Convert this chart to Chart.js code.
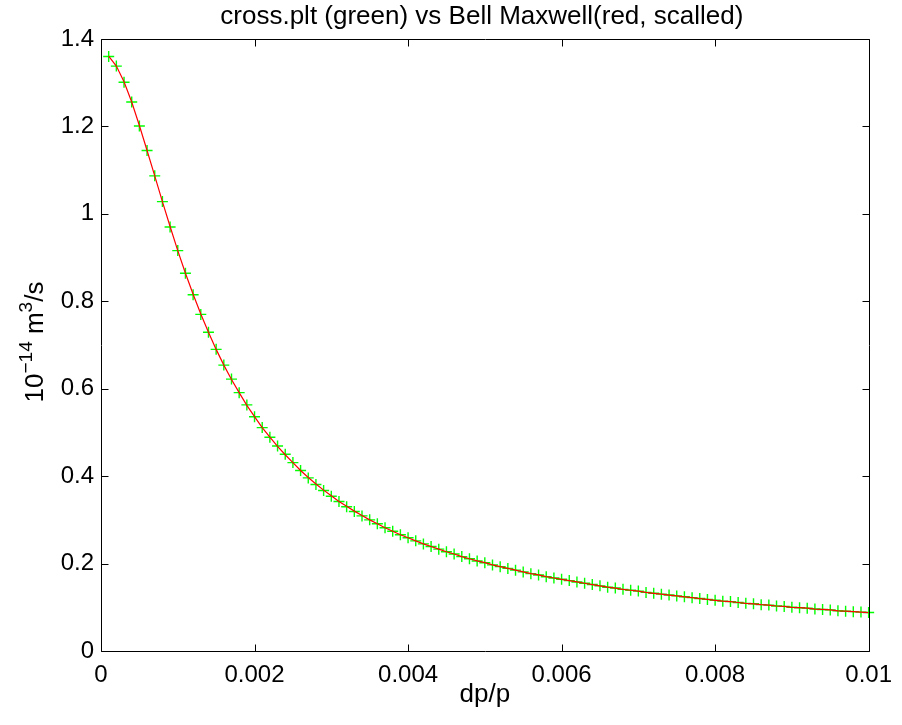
<!DOCTYPE html>
<html>
<head>
<meta charset="utf-8">
<script src="https://cdn.jsdelivr.net/npm/chart.js@4.4.0/dist/chart.umd.min.js"></script>
<style>
html,body{margin:0;padding:0;background:#ffffff;}
#wrap{width:902px;height:725px;position:relative;}
canvas{display:block;}
</style>
</head>
<body>
<div id="wrap"><canvas id="c" width="902" height="725"></canvas></div>
<script>
// ---- data ----
const dpOverP = [
  0.0001,0.0002,0.0003,0.0004,0.0005,0.0006,0.0007,0.0008,0.0009,0.0010,
  0.0011,0.0012,0.0013,0.0014,0.0015,0.0016,0.0017,0.0018,0.0019,0.0020,
  0.0021,0.0022,0.0023,0.0024,0.0025,0.0026,0.0027,0.0028,0.0029,0.0030,
  0.0031,0.0032,0.0033,0.0034,0.0035,0.0036,0.0037,0.0038,0.0039,0.0040,
  0.0041,0.0042,0.0043,0.0044,0.0045,0.0046,0.0047,0.0048,0.0049,0.0050,
  0.0051,0.0052,0.0053,0.0054,0.0055,0.0056,0.0057,0.0058,0.0059,0.0060,
  0.0061,0.0062,0.0063,0.0064,0.0065,0.0066,0.0067,0.0068,0.0069,0.0070,
  0.0071,0.0072,0.0073,0.0074,0.0075,0.0076,0.0077,0.0078,0.0079,0.0080,
  0.0081,0.0082,0.0083,0.0084,0.0085,0.0086,0.0087,0.0088,0.0089,0.0090,
  0.0091,0.0092,0.0093,0.0094,0.0095,0.0096,0.0097,0.0098,0.0099,0.0100
];
// green crosses (cross.plt)
const crossPlt = [
  1.360,1.338,1.301,1.256,1.201,1.145,1.087,1.028,0.970,0.916,
  0.864,0.815,0.770,0.729,0.690,0.654,0.622,0.591,0.563,0.536,
  0.511,0.489,0.469,0.450,0.431,0.413,0.396,0.381,0.367,0.354,
  0.342,0.330,0.319,0.309,0.300,0.291,0.282,0.274,0.266,0.259,
  0.252,0.245,0.239,0.233,0.227,0.222,0.216,0.211,0.206,0.202,
  0.197,0.193,0.189,0.185,0.181,0.177,0.174,0.170,0.167,0.164,
  0.161,0.158,0.155,0.152,0.149,0.146,0.144,0.141,0.139,0.137,
  0.134,0.132,0.130,0.128,0.126,0.124,0.122,0.120,0.118,0.116,
  0.114,0.113,0.111,0.109,0.108,0.106,0.105,0.103,0.102,0.100,
  0.099,0.098,0.096,0.095,0.094,0.092,0.091,0.090,0.089,0.088
];
// red line (Bell Maxwell, scaled) - coincides with the crosses in the picture
const bellMaxwell = [
  1.361,1.338,1.302,1.256,1.202,1.145,1.087,1.028,0.971,0.916,
  0.864,0.816,0.771,0.729,0.690,0.654,0.621,0.591,0.562,0.536,
  0.511,0.489,0.468,0.449,0.431,0.413,0.397,0.382,0.368,0.355,
  0.342,0.331,0.320,0.310,0.300,0.291,0.282,0.274,0.266,0.259,
  0.252,0.245,0.239,0.233,0.227,0.222,0.216,0.211,0.206,0.202,
  0.197,0.193,0.189,0.185,0.181,0.177,0.174,0.170,0.167,0.164,
  0.161,0.158,0.155,0.152,0.149,0.146,0.144,0.141,0.139,0.137,
  0.134,0.132,0.130,0.128,0.126,0.124,0.122,0.120,0.118,0.116,
  0.114,0.113,0.111,0.109,0.108,0.106,0.105,0.103,0.102,0.100,
  0.099,0.098,0.096,0.095,0.094,0.092,0.091,0.090,0.089,0.088
];
const xTicks = [0, 0.002, 0.004, 0.006, 0.008, 0.01];
const xTickLabels = ['0', '0.002', '0.004', '0.006', '0.008', '0.01'];
const yTicks = [0, 0.2, 0.4, 0.6, 0.8, 1.0, 1.2, 1.4];
const yTickLabels = ['0', '0.2', '0.4', '0.6', '0.8', '1', '1.2', '1.4'];
const titleText = 'cross.plt (green) vs Bell Maxwell(red, scalled)';
const xAxisLabel = 'dp/p';
const yAxisLabelParts = [
  {text: '10', sup: false},
  {text: '\u221214', sup: true},
  {text: ' m', sup: false},
  {text: '3', sup: true},
  {text: '/s', sup: false}
];

const FONT = '"Liberation Sans", Arial, Helvetica, sans-serif';

const framePlugin = {
  id: 'matlabFrame',
  afterDraw(chart) {
    const ctx = chart.ctx;
    const a = chart.chartArea;
    const xs = chart.scales.x, ys = chart.scales.y;
    const L = Math.round(a.left) + 0.5, R = Math.round(a.right) + 0.5;
    const T = Math.round(a.top) + 0.5, B = Math.round(a.bottom) + 0.5;
    ctx.save();
    ctx.strokeStyle = '#000000';
    ctx.lineWidth = 1;
    ctx.beginPath();
    ctx.rect(L, T, R - L, B - T);
    ctx.stroke();
    const tl = 7;
    ctx.beginPath();
    xTicks.forEach(v => {
      const p = Math.round(xs.getPixelForValue(v)) + 0.5;
      ctx.moveTo(p, B); ctx.lineTo(p, B - tl);
      ctx.moveTo(p, T); ctx.lineTo(p, T + tl);
    });
    yTicks.forEach(v => {
      const p = Math.round(ys.getPixelForValue(v)) + 0.5;
      ctx.moveTo(L, p); ctx.lineTo(L + tl, p);
      ctx.moveTo(R, p); ctx.lineTo(R - tl, p);
    });
    ctx.stroke();

    ctx.fillStyle = '#000000';
    // title
    ctx.font = '26px ' + FONT;
    ctx.textAlign = 'center';
    ctx.textBaseline = 'alphabetic';
    ctx.fillText(titleText, (a.left + a.right) / 2 - 3, 24);
    // x label
    ctx.fillText(xAxisLabel, (a.left + a.right) / 2, 702);
    // y label (rotated, with superscripts)
    ctx.translate(43, (a.top + a.bottom) / 2 - 3);
    ctx.rotate(-Math.PI / 2);
    ctx.textAlign = 'left';
    let total = 0;
    yAxisLabelParts.forEach(p => {
      ctx.font = (p.sup ? '19px ' : '26px ') + FONT;
      total += ctx.measureText(p.text).width;
    });
    let x = -total / 2;
    yAxisLabelParts.forEach(p => {
      ctx.font = (p.sup ? '19px ' : '26px ') + FONT;
      ctx.fillText(p.text, x, p.sup ? -11 : 0);
      x += ctx.measureText(p.text).width;
    });
    ctx.restore();
  }
};

const ctx = document.getElementById('c').getContext('2d');
new Chart(ctx, {
  type: 'scatter',
  data: {
    datasets: [
      {
        label: 'Bell Maxwell (scaled)',
        data: dpOverP.map((x, i) => ({x: x, y: bellMaxwell[i]})),
        showLine: true,
        borderColor: '#ff0000',
        backgroundColor: '#ff0000',
        borderWidth: 1.2,
        pointRadius: 0,
        tension: 0,
        fill: false,
        order: 0
      },
      {
        label: 'cross.plt',
        data: dpOverP.map((x, i) => ({x: x, y: crossPlt[i]})),
        showLine: false,
        pointStyle: 'cross',
        pointRadius: 5.5,
        pointBorderWidth: 1.4,
        borderColor: '#00ff00',
        backgroundColor: '#00ff00',
        pointBorderColor: '#00ff00',
        clip: false,
        order: 1
      }
    ]
  },
  options: {
    responsive: false,
    animation: false,
    devicePixelRatio: 1,
    layout: {padding: {top: 39, right: 25, left: 0, bottom: 0}},
    plugins: {
      legend: {display: false},
      tooltip: {enabled: false},
      title: {display: false}
    },
    scales: {
      x: {
        type: 'linear',
        position: 'bottom',
        min: 0,
        max: 0.01,
        grid: {display: false, drawTicks: false},
        border: {display: false},
        ticks: {
          color: '#000000',
          font: {family: FONT, size: 24},
          padding: 10,
          maxRotation: 0,
          autoSkip: false,
          callback: (v, i) => xTickLabels[i]
        },
        afterBuildTicks: s => { s.ticks = xTicks.map(v => ({value: v})); },
        afterFit: s => { s.height = 74; }
      },
      y: {
        type: 'linear',
        position: 'left',
        min: 0,
        max: 1.4,
        grid: {display: false, drawTicks: false},
        border: {display: false},
        ticks: {
          color: '#000000',
          font: {family: FONT, size: 24},
          padding: 7,
          autoSkip: false,
          callback: (v, i) => yTickLabels[i]
        },
        afterBuildTicks: s => { s.ticks = yTicks.map(v => ({value: v})); },
        afterFit: s => { s.width = 101; }
      }
    }
  },
  plugins: [framePlugin]
});
</script>
</body>
</html>
